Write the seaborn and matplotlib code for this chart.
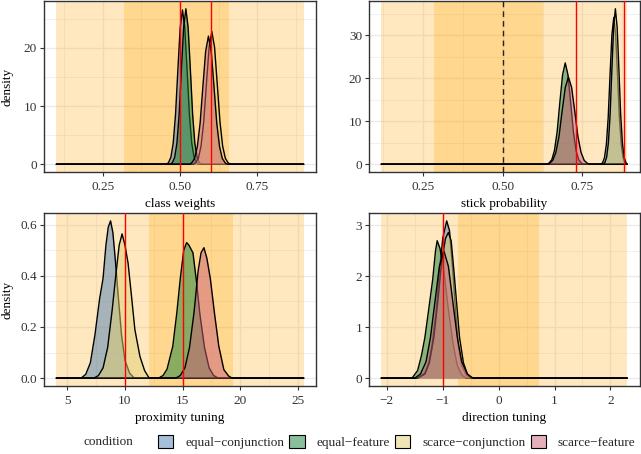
import matplotlib
matplotlib.use("Agg")
import matplotlib.pyplot as plt
import matplotlib.colors as mcolors
from matplotlib.patches import Patch
import seaborn as sns

conditions = ["equal\u2212conjunction", "equal\u2212feature",
              "scarce\u2212conjunction", "scarce\u2212feature"]
fill_colors = ["#4F7FB3", "#158137", "#E1CD71", "#CB5F79"]

# ---- class weights (density curves) ----
cw_eqconj_x = [0.457, 0.463, 0.4705, 0.478, 0.4855, 0.493, 0.5005, 0.508, 0.5155, 0.523, 0.5305, 0.538, 0.5455, 0.553, 0.559]
cw_eqconj_y = [0.0, 0.3, 1.2, 3.6, 8.5, 16.1, 23.4, 26.5, 23.4, 16.1, 8.5, 3.6, 1.2, 0.3, 0.0]
cw_eqfeat_x = [0.4697, 0.4755, 0.4828, 0.49, 0.4973, 0.5045, 0.5118, 0.519, 0.5263, 0.5335, 0.5408, 0.548, 0.5553, 0.5625, 0.5683]
cw_eqfeat_y = [0.0, 0.3, 1.2, 3.6, 8.6, 16.3, 23.5, 26.7, 23.5, 16.3, 8.6, 3.6, 1.2, 0.3, 0.0]
cw_scconj_x = [0.5435, 0.5505, 0.5593, 0.568, 0.5768, 0.5855, 0.5943, 0.603, 0.6118, 0.6205, 0.6293, 0.638, 0.6468, 0.6555, 0.6625]
cw_scconj_y = [0.0, 0.25, 1.0, 3.1, 7.3, 13.8, 20.1, 22.8, 20.1, 13.8, 7.3, 3.1, 1.0, 0.25, 0.0]
cw_scfeat_x = [0.531, 0.538, 0.547, 0.556, 0.565, 0.574, 0.583, 0.592, 0.601, 0.61, 0.619, 0.628, 0.637, 0.646, 0.653]
cw_scfeat_y = [0.0, 0.24, 0.97, 3.0, 7.0, 13.3, 19.4, 22.0, 19.4, 13.3, 7.0, 3.0, 0.97, 0.24, 0.0]
cw_outer = [0.10, 0.90]
cw_inner = [0.318, 0.659]
cw_true = [0.5, 0.6]

# ---- stick probability ----
sp_eqconj_x = [0.8083, 0.813, 0.8188, 0.8247, 0.8305, 0.8363, 0.8422, 0.848, 0.8538, 0.8597, 0.8655, 0.8713, 0.8772, 0.883, 0.8877]
sp_eqconj_y = [0.0, 0.38, 1.5, 4.6, 10.9, 20.9, 30.2, 34.2, 30.2, 20.9, 10.9, 4.6, 1.5, 0.38, 0.0]
sp_eqfeat_x = [0.6385, 0.6453, 0.6538, 0.6622, 0.6707, 0.6791, 0.6876, 0.696, 0.7045, 0.7129, 0.7214, 0.7298, 0.7383, 0.7467, 0.7535]
sp_eqfeat_y = [0.0, 0.26, 1.04, 3.2, 7.6, 14.4, 20.8, 23.6, 20.8, 14.4, 7.6, 3.2, 1.04, 0.26, 0.0]
sp_scconj_x = [0.8156, 0.82, 0.8255, 0.831, 0.8365, 0.842, 0.8475, 0.853, 0.8585, 0.864, 0.8695, 0.875, 0.8805, 0.886, 0.8888]
sp_scconj_y = [0.0, 0.4, 1.6, 4.9, 11.6, 22.1, 31.9, 36.2, 31.9, 22.1, 11.6, 4.9, 1.6, 0.4, 0.0]
sp_scfeat_x = [0.639, 0.6469, 0.6568, 0.6666, 0.6765, 0.6863, 0.6962, 0.706, 0.7159, 0.7257, 0.7356, 0.7454, 0.7553, 0.7651, 0.773]
sp_scfeat_y = [0.0, 0.22, 0.9, 2.75, 6.5, 12.4, 17.9, 20.3, 17.9, 12.4, 6.5, 2.75, 0.9, 0.22, 0.0]
sp_outer = [0.12, 0.89]
sp_inner = [0.284, 0.625]
sp_true = [0.73, 0.88]
sp_chance = 0.5

# ---- proximity tuning ----
pt_eqconj_x = [6.2, 6.6, 7.0, 7.4, 7.8, 8.1, 8.35, 8.55, 8.75, 8.95, 9.15, 9.4, 9.7, 10.0, 10.4, 10.8]
pt_eqconj_y = [0.0, 0.015, 0.06, 0.17, 0.31, 0.39, 0.52, 0.59, 0.615, 0.57, 0.47, 0.33, 0.17, 0.07, 0.02, 0.0]
pt_eqfeat_x = [12.9, 13.3, 13.65, 14.15, 14.5, 14.8, 15.1, 15.35, 15.55, 15.9, 16.2, 16.5, 16.9, 17.3, 17.7, 18.1]
pt_eqfeat_y = [0.0, 0.01, 0.035, 0.125, 0.256, 0.39, 0.5, 0.53, 0.52, 0.49, 0.38, 0.25, 0.12, 0.04, 0.01, 0.0]
pt_scconj_x = [7.3, 7.7, 8.1, 8.5, 8.9, 9.2, 9.5, 9.75, 10.0, 10.27, 10.57, 10.86, 11.3, 11.7, 12.1]
pt_scconj_y = [0.0, 0.01, 0.04, 0.12, 0.27, 0.40, 0.52, 0.564, 0.52, 0.45, 0.32, 0.19, 0.085, 0.03, 0.0]
pt_scfeat_x = [14.4, 14.8, 15.2, 15.6, 16.0, 16.35, 16.6, 16.85, 17.1, 17.41, 17.76, 18.14, 18.58, 19.0, 19.3]
pt_scfeat_y = [0.0, 0.01, 0.04, 0.12, 0.26, 0.42, 0.49, 0.51, 0.47, 0.388, 0.256, 0.125, 0.033, 0.008, 0.0]
pt_outer = [4.05, 25.5]
pt_inner = [12.1, 19.4]
pt_true = [10, 15]

# ---- direction tuning ----
dt_eqconj_x = [-1.45, -1.32, -1.25, -1.19, -1.12, -1.06, -1.0, -0.93, -0.88, -0.82, -0.77, -0.72, -0.66, -0.58, -0.5]
dt_eqconj_y = [0.0, 0.1, 0.3, 0.66, 1.3, 2.1, 2.75, 3.09, 2.9, 2.1, 1.3, 0.62, 0.25, 0.06, 0.0]
dt_eqfeat_x = [-1.55, -1.45, -1.38, -1.32, -1.26, -1.18, -1.13, -1.10, -1.05, -0.98, -0.9, -0.82, -0.74, -0.66, -0.58]
dt_eqfeat_y = [0.0, 0.15, 0.45, 0.8, 1.28, 1.94, 2.5, 2.70, 2.55, 2.1, 1.35, 0.7, 0.25, 0.06, 0.0]
dt_scconj_x = [-1.45, -1.32, -1.24, -1.16, -1.08, -1.02, -0.95, -0.90, -0.85, -0.8, -0.75, -0.7, -0.63, -0.56, -0.48]
dt_scconj_y = [0.0, 0.08, 0.3, 0.8, 1.6, 2.3, 2.75, 2.86, 2.7, 2.1, 1.45, 0.8, 0.3, 0.08, 0.0]
dt_scfeat_x = [-1.5, -1.4, -1.3, -1.22, -1.14, -1.06, -0.98, -0.9, -0.82, -0.74, -0.66, -0.56, -0.46]
dt_scfeat_y = [0.0, 0.08, 0.32, 0.8, 1.5, 2.2, 2.5, 2.2, 1.5, 0.8, 0.32, 0.08, 0.0]
dt_outer = [-2.1, 2.3]
dt_inner = [-0.72, 0.73]
dt_true = [-1]

sns.set_theme(style="white")
plt.rcParams['font.family'] = ['Liberation Serif', 'DejaVu Serif']
FS = 9.5
BAND = "#FFA500"


def draw_panel(ax, curves, outer, inner, refs, xticks, xlabels, xminor,
               yticks, ylabels, yminor, xlabel, ylabel=None, dashed=None):
    ax.set_axisbelow(True)
    ax.axvspan(outer[0], outer[1], color=BAND, alpha=0.25, lw=0, zorder=1)
    ax.axvspan(inner[0], inner[1], color=BAND, alpha=0.25, lw=0, zorder=1)
    ymax = 0
    for i, (xs, ys) in enumerate(curves):
        fx = [outer[0]] + list(xs) + [outer[1]]
        fy = [0] + list(ys) + [0]
        ymax = max(ymax, max(ys))
        ax.fill_between(fx, fy, color=fill_colors[i], alpha=0.5, lw=0, zorder=2 + i)
        ax.plot(fx, fy, color="black", lw=1.0, zorder=2.5 + i)
    for r in refs:
        ax.axvline(r, color="red", lw=1.0, zorder=10)
    if dashed is not None:
        ax.axvline(dashed, color="#222222", lw=1.0, ls=(0, (4, 3)), zorder=10)
    span = outer[1] - outer[0]
    ax.set_xlim(outer[0] - 0.05 * span, outer[1] + 0.05 * span)
    ax.set_ylim(-0.05 * ymax, 1.05 * ymax)
    ax.set_xticks(xticks)
    ax.set_xticklabels(xlabels)
    ax.set_xticks(xminor, minor=True)
    ax.set_yticks(yticks)
    ax.set_yticklabels(ylabels)
    ax.set_yticks(yminor, minor=True)
    ax.grid(True, which="major", color="#EBEBEB", lw=1.0)
    ax.grid(True, which="minor", color="#EBEBEB", lw=0.5)
    ax.tick_params(which="major", direction="out", length=2.75, width=0.8,
                   color="#333333", labelsize=FS, labelcolor="#333333",
                   bottom=True, left=True)
    ax.tick_params(axis="x", which="major", pad=4.0)
    ax.tick_params(axis="y", which="major", pad=2.2)
    ax.tick_params(which="minor", length=0)
    for s in ax.spines.values():
        s.set_color("#333333")
        s.set_linewidth(1.0)
    ax.set_xlabel(xlabel, fontsize=FS, labelpad=3.0, color="black")
    if ylabel:
        ax.set_ylabel(ylabel, fontsize=FS, color="black")
        ax.yaxis.set_label_coords(-0.112, 0.5)


fig = plt.figure(figsize=(6.41, 4.54), dpi=100)
W, H = 641, 454


def box(l, t, r, b):
    return [l / W, 1 - b / H, (r - l) / W, (b - t) / H]


ax1 = fig.add_axes(box(44, 1, 316, 172))
ax2 = fig.add_axes(box(369, 1, 639.5, 172))
ax3 = fig.add_axes(box(44, 213, 316, 386))
ax4 = fig.add_axes(box(369, 213, 639.5, 386))

draw_panel(ax1,
           [(cw_eqconj_x, cw_eqconj_y), (cw_eqfeat_x, cw_eqfeat_y),
            (cw_scconj_x, cw_scconj_y), (cw_scfeat_x, cw_scfeat_y)],
           cw_outer, cw_inner, cw_true,
           [0.25, 0.5, 0.75], ["0.25", "0.50", "0.75"], [0.125, 0.375, 0.625, 0.875],
           [0, 10, 20], ["0", "10", "20"], [5, 15, 25],
           "class weights", "density")
draw_panel(ax2,
           [(sp_eqconj_x, sp_eqconj_y), (sp_eqfeat_x, sp_eqfeat_y),
            (sp_scconj_x, sp_scconj_y), (sp_scfeat_x, sp_scfeat_y)],
           sp_outer, sp_inner, sp_true,
           [0.25, 0.5, 0.75], ["0.25", "0.50", "0.75"], [0.125, 0.375, 0.625, 0.875],
           [0, 10, 20, 30], ["0", "10", "20", "30"], [5, 15, 25, 35],
           "stick probability", dashed=sp_chance)
draw_panel(ax3,
           [(pt_eqconj_x, pt_eqconj_y), (pt_eqfeat_x, pt_eqfeat_y),
            (pt_scconj_x, pt_scconj_y), (pt_scfeat_x, pt_scfeat_y)],
           pt_outer, pt_inner, pt_true,
           [5, 10, 15, 20, 25], ["5", "10", "15", "20", "25"], [7.5, 12.5, 17.5, 22.5],
           [0, 0.2, 0.4, 0.6], ["0.0", "0.2", "0.4", "0.6"], [0.1, 0.3, 0.5],
           "proximity tuning", "density")
draw_panel(ax4,
           [(dt_eqconj_x, dt_eqconj_y), (dt_eqfeat_x, dt_eqfeat_y),
            (dt_scconj_x, dt_scconj_y), (dt_scfeat_x, dt_scfeat_y)],
           dt_outer, dt_inner, dt_true,
           [-2, -1, 0, 1, 2], ["\u22122", "\u22121", "0", "1", "2"], [-1.5, -0.5, 0.5, 1.5],
           [0, 1, 2, 3], ["0", "1", "2", "3"], [0.5, 1.5, 2.5],
           "direction tuning")

handles = [Patch(facecolor=mcolors.to_rgba(c, 0.5), edgecolor="black", linewidth=0.8)
           for c in fill_colors]
fig.legend(handles, conditions, loc="center left", bbox_to_anchor=(158 / W, 1 - 442 / H),
           ncol=4, frameon=False, borderpad=0, borderaxespad=0, handlelength=1.15,
           handleheight=1.2, handletextpad=0.9, columnspacing=0.4, fontsize=FS)
fig.text(83 / W, 1 - 442 / H, "condition", fontsize=FS, va="center", ha="left")

fig.savefig("out.png", dpi=100)
